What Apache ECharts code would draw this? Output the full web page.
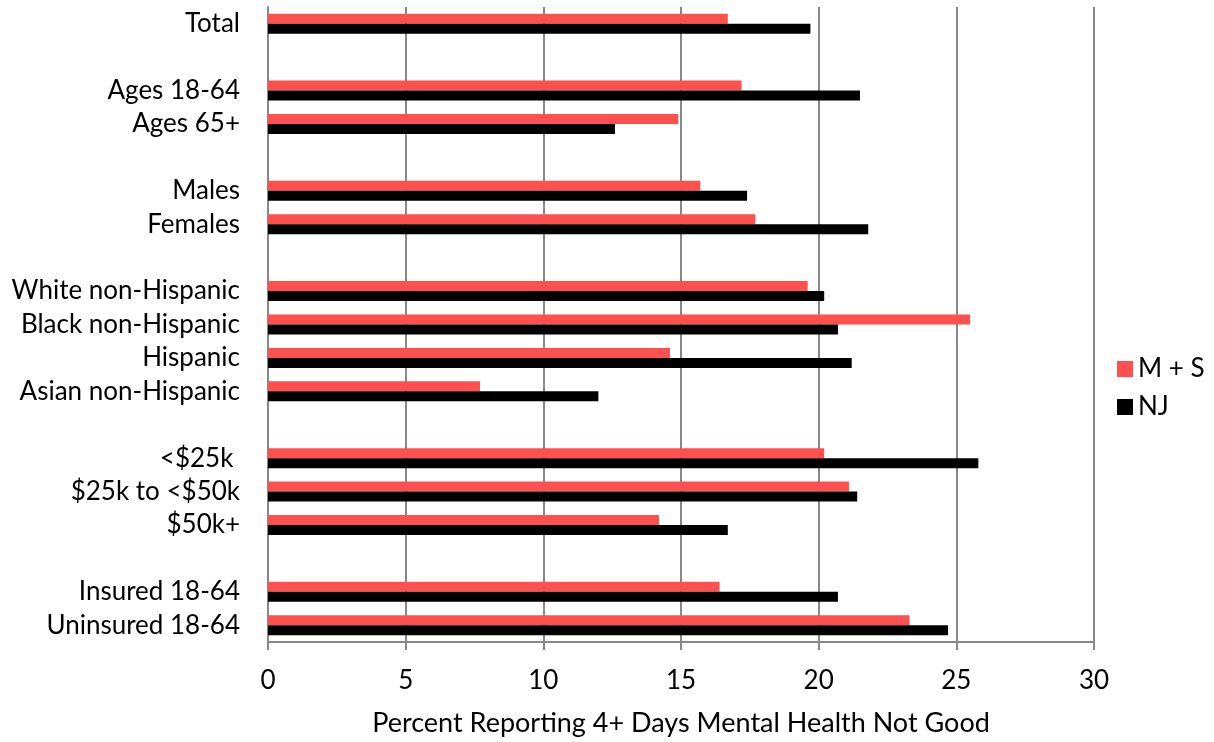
<!DOCTYPE html>
<html>
<head>
<meta charset="utf-8">
<script src="https://cdn.jsdelivr.net/npm/echarts@6/dist/echarts.min.js"></script>
<style>html,body{margin:0;padding:0;background:#fff}#c{width:1214px;height:742px}</style>
</head>
<body>
<div id="c"></div>
<script>
const categories = ['Total', '', 'Ages 18-64', 'Ages 65+', '', 'Males', 'Females', '',
  'White non-Hispanic', 'Black non-Hispanic', 'Hispanic', 'Asian non-Hispanic', '',
  '<$25k ', '$25k to <$50k', '$50k+', '', 'Insured 18-64', 'Uninsured 18-64'];
const msValues = [16.7, null, 17.2, 14.9, null, 15.7, 17.7, null,
  19.6, 25.5, 14.6, 7.7, null, 20.2, 21.1, 14.2, null, 16.4, 23.3];
const njValues = [19.7, null, 21.5, 12.6, null, 17.4, 21.8, null,
  20.2, 20.7, 21.2, 12.0, null, 25.8, 21.4, 16.7, null, 20.7, 24.7];
const seriesNames = ['M + S', 'NJ'];
const xTitle = 'Percent Reporting 4+ Days Mental Health Not Good';

const FONT = 'Lato, sans-serif';
const FS = 26;
const chart = echarts.init(document.getElementById('c'), null, {renderer: 'canvas'});
chart.setOption({
  animation: false,
  textStyle: {fontFamily: FONT},
  grid: {left: 268, right: 120, top: 7, bottom: 97, containLabel: false},
  legend: {
    orient: 'vertical', left: 1112, top: 351, itemWidth: 16, itemHeight: 16, itemGap: 12,
    icon: 'rect', padding: 5,
    textStyle: {fontFamily: FONT, fontSize: FS, color: '#000'},
    data: seriesNames
  },
  xAxis: {
    type: 'value', min: 0, max: 30, interval: 5,
    axisLine: {show: true, lineStyle: {color: '#888', width: 2}},
    axisTick: {show: true, length: 8, lineStyle: {color: '#888', width: 2}},
    splitLine: {show: true, lineStyle: {color: '#888', width: 2}},
    axisLabel: {fontFamily: FONT, fontSize: FS, color: '#000', margin: 26},
    name: xTitle, nameLocation: 'middle', nameGap: 68,
    nameTextStyle: {fontFamily: FONT, fontSize: 27, color: '#000'}
  },
  yAxis: {
    type: 'category', data: categories, inverse: true,
    axisLine: {show: true, lineStyle: {color: '#888', width: 2}},
    axisTick: {show: false},
    axisLabel: {fontFamily: FONT, fontSize: FS, color: '#000', margin: 28, interval: 0}
  },
  series: [
    {name: seriesNames[0], type: 'bar', data: msValues, itemStyle: {color: '#FF5050'},
     barWidth: 10, barGap: '0%'},
    {name: seriesNames[1], type: 'bar', data: njValues, itemStyle: {color: '#000000'},
     barWidth: 10, barGap: '0%'}
  ]
});
</script>
</body>
</html>
